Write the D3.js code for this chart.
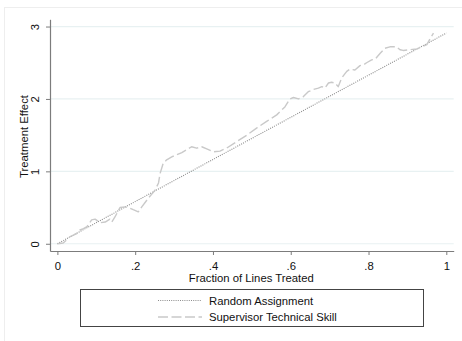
<!DOCTYPE html>
<html>
<head>
<meta charset="utf-8">
<script src="https://cdn.jsdelivr.net/npm/d3@7"></script>
<style>
  html, body { margin: 0; padding: 0; background: #fff; }
  svg { display: block; }
  text { font-family: "Liberation Sans", Arial, sans-serif; }
</style>
</head>
<body>
<svg id="chart" width="462" height="341"></svg>
<script>
// Axis ticks
const xTicks = [0, 0.2, 0.4, 0.6, 0.8, 1];
const xTickLabels = ["0", ".2", ".4", ".6", ".8", "1"];
const yTicks = [0, 1, 2, 3];
const yTickLabels = ["0", "1", "2", "3"];

// Random assignment benchmark
const randomFraction = [0, 1];
const randomEffect = [0, 2.91];

// Targeting by supervisor technical skill
const skillFraction = [
  0, 0.015, 0.033, 0.05, 0.058, 0.067, 0.076, 0.088, 0.097, 0.11,
  0.123, 0.135, 0.14, 0.148, 0.161, 0.174, 0.187, 0.195, 0.208, 0.217,
  0.234, 0.251, 0.26, 0.264, 0.272, 0.281, 0.294, 0.307, 0.32, 0.333,
  0.345, 0.358, 0.371, 0.384, 0.401, 0.418, 0.435, 0.461, 0.487, 0.513,
  0.538, 0.564, 0.585, 0.598, 0.607, 0.62, 0.632, 0.645, 0.658, 0.671,
  0.68, 0.688, 0.697, 0.705, 0.714, 0.722, 0.731, 0.744, 0.752, 0.765,
  0.778, 0.787, 0.795, 0.808, 0.817, 0.83, 0.842, 0.855, 0.872, 0.881,
  0.889, 0.907, 0.924, 0.937, 0.95, 0.958, 0.967
];
const skillEffect = [
  0, 0.01, 0.10, 0.14, 0.19, 0.21, 0.235, 0.33, 0.34, 0.29,
  0.30, 0.34, 0.30, 0.37, 0.50, 0.51, 0.49, 0.47, 0.44, 0.51,
  0.63, 0.74, 0.84, 0.97, 1.11, 1.16, 1.20, 1.23, 1.26, 1.30,
  1.34, 1.32, 1.34, 1.31, 1.27, 1.28, 1.32, 1.41, 1.50, 1.60,
  1.69, 1.78, 1.89, 2.00, 2.02, 2.00, 2.03, 2.10, 2.13, 2.15,
  2.17, 2.15, 2.22, 2.23, 2.22, 2.17, 2.29, 2.38, 2.41, 2.40,
  2.46, 2.47, 2.50, 2.54, 2.55, 2.63, 2.70, 2.72, 2.72, 2.68,
  2.67, 2.68, 2.69, 2.72, 2.75, 2.83, 2.91
];

const randomSeries = randomFraction.map((f, i) => [f, randomEffect[i]]);
const skillSeries = skillFraction.map((f, i) => [f, skillEffect[i]]);

const svg = d3.select("#chart");
const fontSize = "11.3px";
const axisColor = "#7c7c7c";

// faint outer frame of the graph region
svg.append("rect")
  .attr("x", 4.5).attr("y", 7.5)
  .attr("width", 470).attr("height", 345)
  .attr("fill", "none").attr("stroke", "#eeeeee").attr("stroke-width", 1);

const x = d3.scaleLinear().domain([-0.019, 1.019]).range([50, 453.7]);
const y = d3.scaleLinear().domain([-0.1, 3.1]).range([251, 19.3]);

// horizontal grid lines
svg.append("g")
  .selectAll("line")
  .data(yTicks)
  .join("line")
  .attr("x1", x.range()[0]).attr("x2", x.range()[1])
  .attr("y1", d => y(d)).attr("y2", d => y(d))
  .attr("stroke", "#e8f1f2").attr("stroke-width", 1.2);

// x axis
const xAxis = svg.append("g")
  .attr("transform", `translate(0,${y.range()[0]})`)
  .call(d3.axisBottom(x)
    .tickValues(xTicks)
    .tickFormat((d, i) => xTickLabels[i])
    .tickSize(4)
    .tickSizeOuter(0));
xAxis.select(".domain").attr("stroke", axisColor).attr("stroke-width", 1.2);
xAxis.selectAll(".tick line").attr("stroke", axisColor).attr("stroke-width", 1);
xAxis.selectAll(".tick text")
  .attr("y", 15).attr("dy", null)
  .attr("dominant-baseline", "central")
  .attr("fill", "#111")
  .style("font-size", fontSize)
  .style("font-family", "'Liberation Sans', Arial, sans-serif");

// y axis with rotated tick labels
const yAxis = svg.append("g")
  .attr("transform", `translate(${x.range()[0]},0)`)
  .call(d3.axisLeft(y)
    .tickValues(yTicks)
    .tickFormat((d, i) => yTickLabels[i])
    .tickSize(4)
    .tickSizeOuter(0));
yAxis.select(".domain").attr("stroke", axisColor).attr("stroke-width", 1.2);
yAxis.selectAll(".tick line").attr("stroke", axisColor).attr("stroke-width", 1);
yAxis.selectAll(".tick text")
  .attr("transform", "rotate(-90)")
  .attr("x", 0).attr("y", -15).attr("dy", null)
  .attr("text-anchor", "middle")
  .attr("dominant-baseline", "central")
  .attr("fill", "#111")
  .style("font-size", fontSize)
  .style("font-family", "'Liberation Sans', Arial, sans-serif");

// axis titles
svg.append("text")
  .attr("x", 251.3).attr("y", 277.5)
  .attr("text-anchor", "middle")
  .attr("dominant-baseline", "central")
  .attr("fill", "#111")
  .style("font-size", fontSize)
  .text("Fraction of Lines Treated");

svg.append("text")
  .attr("transform", "translate(24,136.5) rotate(-90)")
  .attr("text-anchor", "middle")
  .attr("dominant-baseline", "central")
  .attr("fill", "#111")
  .style("font-size", fontSize)
  .text("Treatment Effect");

// series
const line = d3.line().x(d => x(d[0])).y(d => y(d[1]));

const randomStyle = { stroke: "#8c8c8c", width: 1.1, dash: "1,1.2" };
const skillStyle = { stroke: "#c9c9c9", width: 1.4, dash: "10,3.5" };

svg.append("path")
  .datum(randomSeries)
  .attr("d", line)
  .attr("fill", "none")
  .attr("stroke", randomStyle.stroke)
  .attr("stroke-width", randomStyle.width)
  .attr("stroke-dasharray", randomStyle.dash);

svg.append("path")
  .datum(skillSeries)
  .attr("d", line)
  .attr("fill", "none")
  .attr("stroke", skillStyle.stroke)
  .attr("stroke-width", skillStyle.width)
  .attr("stroke-dasharray", skillStyle.dash)
  .attr("stroke-linejoin", "round");

// legend
const legend = svg.append("g");
legend.append("rect")
  .attr("x", 80.5).attr("y", 289.5)
  .attr("width", 343).attr("height", 37)
  .attr("fill", "#fff").attr("stroke", "#444").attr("stroke-width", 1);

const legendItems = [
  { label: "Random Assignment", style: randomStyle, cy: 300.5 },
  { label: "Supervisor Technical Skill", style: skillStyle, cy: 317 }
];
legendItems.forEach(item => {
  legend.append("line")
    .attr("x1", 158).attr("x2", 202)
    .attr("y1", item.cy).attr("y2", item.cy)
    .attr("stroke", item.style.stroke)
    .attr("stroke-width", item.style.width)
    .attr("stroke-dasharray", item.style.dash);
  legend.append("text")
    .attr("x", 209).attr("y", item.cy)
    .attr("dominant-baseline", "central")
    .attr("fill", "#111")
    .style("font-size", fontSize)
    .text(item.label);
});
</script>
</body>
</html>
